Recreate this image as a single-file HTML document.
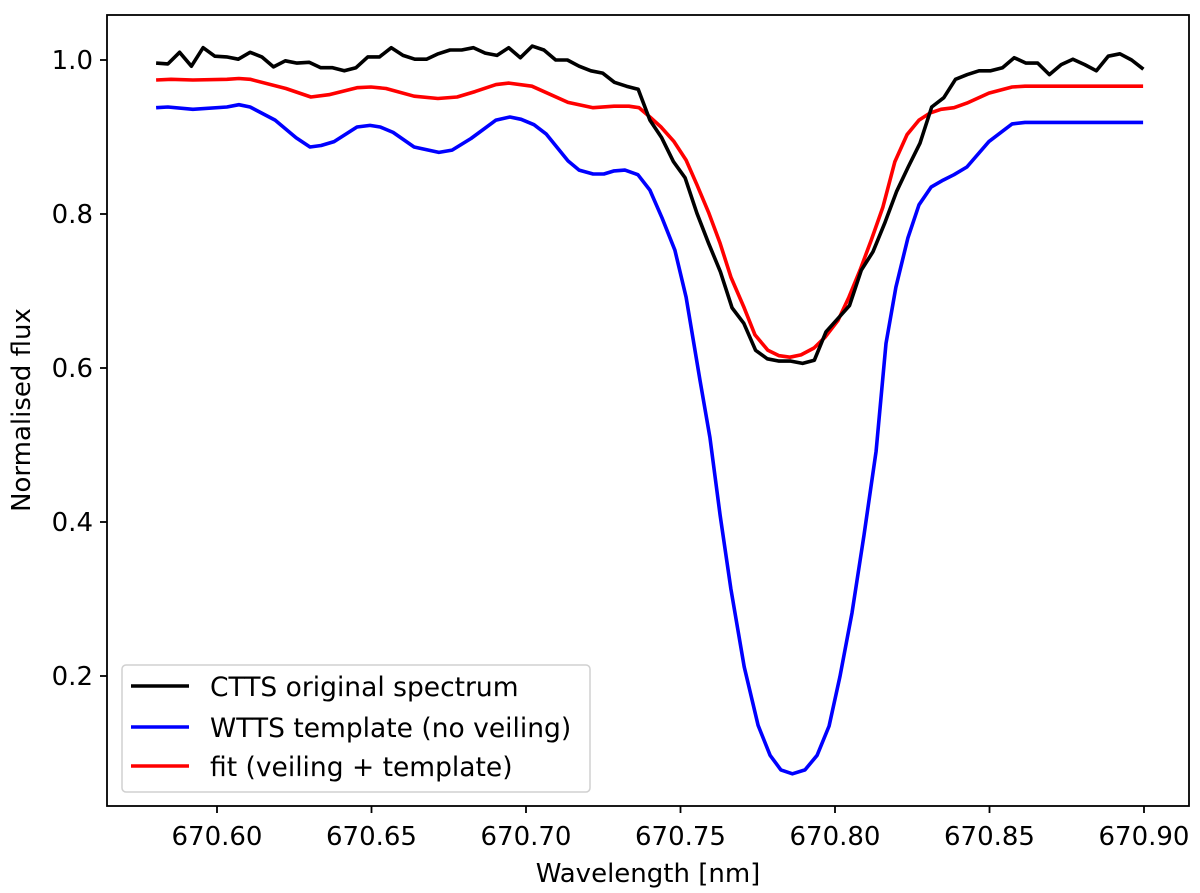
<!DOCTYPE html>
<html><head><meta charset="utf-8"><style>
html,body{margin:0;padding:0;background:#fff;}
svg{display:block;font-family:"DejaVu Sans","Liberation Sans",sans-serif;}
</style></head><body>
<svg id="chart" width="1200" height="893" viewBox="0 0 1200 893" xmlns="http://www.w3.org/2000/svg">
<rect x="0" y="0" width="1200" height="893" fill="#fff"/>
<g id="plot"></g>
<g id="axes"></g>
<g id="legend">
<rect x="122" y="665" width="468" height="127" rx="4" fill="#fff" fill-opacity="0.8" stroke="#d0d0d0" stroke-width="1.5"/>
<line x1="131" y1="686" x2="189" y2="686" stroke="#000" stroke-width="3.5"/>
<text x="210" y="696" font-size="26.5">CTTS original spectrum</text>
<line x1="131" y1="727" x2="189" y2="727" stroke="#0000ff" stroke-width="3.5"/>
<text x="210" y="737" font-size="26.5">WTTS template (no veiling)</text>
<line x1="131" y1="766" x2="189" y2="766" stroke="#ff0000" stroke-width="3.5"/>
<text x="210" y="776" font-size="26.5">fit (veiling + template)</text>
</g>
<text x="648" y="882" font-size="26" text-anchor="middle">Wavelength [nm]</text>
<text transform="translate(30,410) rotate(-90)" font-size="26" text-anchor="middle">Normalised flux</text>
</svg>
<script>
const cttsWl = [670.5803,670.5841,670.5879,670.5917,670.5955,670.5993,670.6031,670.6069,670.6107,670.6145,670.6183,670.6221,670.6259,670.6298,670.6336,670.6374,670.6412,670.6450,670.6488,670.6526,670.6564,670.6602,670.6640,670.6678,670.6716,670.6754,670.6792,670.6830,670.6868,670.6906,670.6944,670.6982,670.7020,670.7058,670.7096,670.7134,670.7172,670.7210,670.7248,670.7286,670.7325,670.7363,670.7401,670.7439,670.7477,670.7515,670.7553,670.7591,670.7629,670.7667,670.7705,670.7743,670.7781,670.7819,670.7857,670.7895,670.7933,670.7971,670.8009,670.8047,670.8085,670.8123,670.8161,670.8199,670.8237,670.8275,670.8313,670.8352,670.8390,670.8428,670.8466,670.8504,670.8542,670.8580,670.8618,670.8656,670.8694,670.8732,670.8770,670.8808,670.8846,670.8884,670.8922,670.8960,670.8998];
const cttsFlux = [0.996,0.995,1.010,0.992,1.016,1.005,1.004,1.001,1.010,1.004,0.991,0.999,0.996,0.997,0.990,0.990,0.986,0.990,1.004,1.004,1.016,1.006,1.001,1.001,1.008,1.013,1.013,1.016,1.009,1.006,1.016,1.003,1.018,1.013,1.000,1.000,0.992,0.986,0.983,0.971,0.966,0.962,0.922,0.899,0.868,0.847,0.801,0.762,0.725,0.678,0.658,0.623,0.612,0.609,0.609,0.606,0.610,0.647,0.664,0.681,0.727,0.751,0.788,0.829,0.861,0.892,0.939,0.951,0.975,0.981,0.986,0.986,0.990,1.003,0.996,0.996,0.981,0.994,1.001,0.994,0.986,1.005,1.008,1.000,0.988];
const wttsWl = [670.5803,670.5841,670.5922,670.6032,670.6071,670.6107,670.6188,670.6256,670.6301,670.6337,670.6379,670.6453,670.6495,670.6528,670.6570,670.6638,670.6718,670.6761,670.6822,670.6903,670.6948,670.6984,670.7026,670.7065,670.7136,670.7172,670.7217,670.7252,670.7285,670.7320,670.7362,670.7401,670.7440,670.7482,670.7518,670.7563,670.7595,670.7628,670.7663,670.7706,670.7751,670.7790,670.7825,670.7862,670.7903,670.7942,670.7981,670.8016,670.8055,670.8094,670.8133,670.8165,670.8197,670.8236,670.8272,670.8311,670.8350,670.8385,670.8427,670.8498,670.8573,670.8615,670.8997];
const wttsFlux = [0.938,0.939,0.936,0.939,0.942,0.939,0.922,0.899,0.887,0.889,0.894,0.913,0.915,0.913,0.906,0.887,0.880,0.883,0.898,0.922,0.926,0.923,0.916,0.904,0.869,0.857,0.852,0.852,0.856,0.857,0.851,0.831,0.795,0.753,0.692,0.584,0.510,0.409,0.313,0.212,0.136,0.097,0.078,0.073,0.078,0.097,0.135,0.199,0.282,0.383,0.492,0.632,0.705,0.769,0.812,0.835,0.844,0.851,0.861,0.894,0.917,0.919,0.919];
const fitWl = [670.5803,670.5851,670.5922,670.6032,670.6071,670.6107,670.6223,670.6304,670.6362,670.6453,670.6498,670.6547,670.6638,670.6715,670.6777,670.6835,670.6903,670.6945,670.7019,670.7136,670.7217,670.7285,670.7333,670.7366,670.7401,670.7437,670.7479,670.7518,670.7553,670.7592,670.7628,670.7663,670.7706,670.7741,670.7783,670.7819,670.7854,670.7890,670.7932,670.7968,670.8010,670.8045,670.8081,670.8117,670.8155,670.8194,670.8233,670.8272,670.8307,670.8343,670.8385,670.8427,670.8498,670.8573,670.8615,670.8997];
const fitFlux = [0.974,0.975,0.974,0.975,0.976,0.975,0.963,0.952,0.955,0.964,0.965,0.963,0.953,0.950,0.952,0.959,0.968,0.970,0.966,0.945,0.938,0.940,0.940,0.938,0.926,0.913,0.894,0.870,0.838,0.801,0.762,0.718,0.678,0.643,0.623,0.616,0.614,0.617,0.626,0.640,0.662,0.692,0.727,0.766,0.809,0.868,0.903,0.922,0.931,0.936,0.938,0.944,0.957,0.965,0.966,0.966];
const xTicks = [670.60,670.65,670.70,670.75,670.80,670.85,670.90];
const xTickLabels = ["670.60","670.65","670.70","670.75","670.80","670.85","670.90"];
const yTicks = [0.2,0.4,0.6,0.8,1.0];
const yTickLabels = ["0.2","0.4","0.6","0.8","1.0"];

const NS = "http://www.w3.org/2000/svg";
const L = 107, R = 1189, T = 15, B = 806;
function xs(w){ return 217 + (w - 670.60) * 3090; }
function ys(v){ return 60 + (1 - v) * 770; }

const plot = document.getElementById('plot');
const axes = document.getElementById('axes');

function addLine(wl, fl, color, name){
  const p = document.createElementNS(NS, 'polyline');
  p.setAttribute('points', wl.map((w,i)=>xs(w).toFixed(1)+','+ys(fl[i]).toFixed(1)).join(' '));
  p.setAttribute('fill','none');
  p.setAttribute('stroke',color);
  p.setAttribute('stroke-width','3.6');
  p.setAttribute('stroke-linejoin','round');
  
  
  plot.appendChild(p);
}
addLine(wttsWl, wttsFlux, '#0000ff', 'wtts-template-line');
addLine(fitWl, fitFlux, '#ff0000', 'fit-line');
addLine(cttsWl, cttsFlux, '#000000', 'ctts-spectrum-line');

const frame = document.createElementNS(NS,'rect');
frame.setAttribute('x',L); frame.setAttribute('y',T);
frame.setAttribute('width',R-L); frame.setAttribute('height',B-T);
frame.setAttribute('fill','none'); frame.setAttribute('stroke','#000'); frame.setAttribute('stroke-width','1.8');


axes.appendChild(frame);

xTicks.forEach((t,i)=>{
  const x = xs(t);
  const ln = document.createElementNS(NS,'line');
  ln.setAttribute('x1',x); ln.setAttribute('x2',x); ln.setAttribute('y1',B); ln.setAttribute('y2',B+7);
  ln.setAttribute('stroke','#000'); ln.setAttribute('stroke-width','1.8');
  
  
  axes.appendChild(ln);
  const tx = document.createElementNS(NS,'text');
  tx.setAttribute('x',x); tx.setAttribute('y',B+39);
  tx.setAttribute('text-anchor','middle'); tx.setAttribute('font-size','26');
  tx.textContent = xTickLabels[i];
  
  
  axes.appendChild(tx);
});
yTicks.forEach((t,i)=>{
  const y = ys(t);
  const ln = document.createElementNS(NS,'line');
  ln.setAttribute('x1',L-7); ln.setAttribute('x2',L); ln.setAttribute('y1',y); ln.setAttribute('y2',y);
  ln.setAttribute('stroke','#000'); ln.setAttribute('stroke-width','1.8');
  
  
  axes.appendChild(ln);
  const tx = document.createElementNS(NS,'text');
  tx.setAttribute('x',L-14); tx.setAttribute('y',y+9);
  tx.setAttribute('text-anchor','end'); tx.setAttribute('font-size','26');
  tx.textContent = yTickLabels[i];
  
  
  axes.appendChild(tx);
});
</script>
</body></html>
